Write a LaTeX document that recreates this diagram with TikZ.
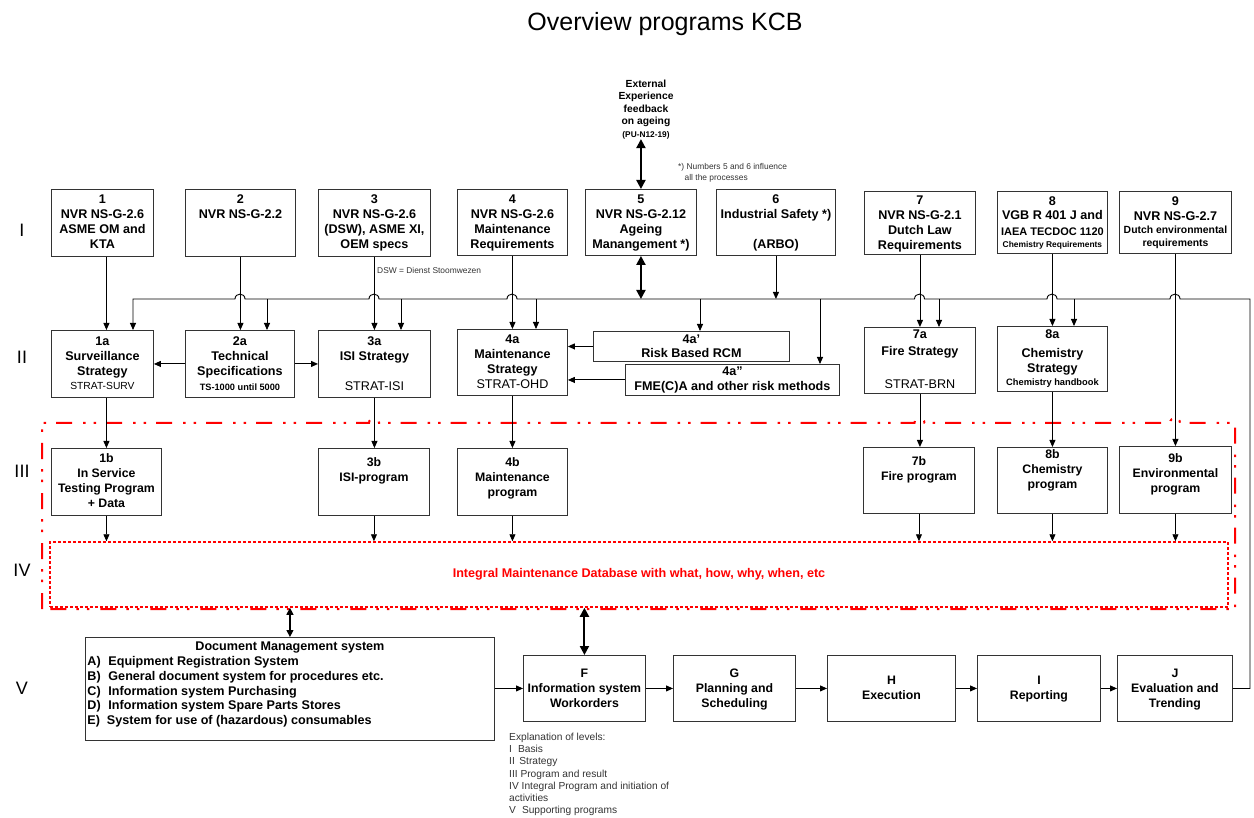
\documentclass[tikz,border=0pt]{standalone}
\usepackage{fontspec}
\setmainfont{Liberation Sans}
\usetikzlibrary{arrows.meta}
\setlength{\parskip}{0pt}
\newcommand\sz[2]{\fontsize{#1}{#2}\selectfont}
% \blk[style]{name}{x1}{y1}{x2}{y2}{top padding}{lines}
\newcommand\blk[8][]{%
  \pgfmathsetmacro\blkw{#5-#3}%
  \pgfmathsetmacro\blkh{#6-#4}%
  \node[blkbox,#1] (#2) at (#3,#4)
    {\parbox[c][\blkh pt][t]{\blkw pt}{\centering\vspace*{#7pt}#8\par}};%
}
\begin{document}
\begin{tikzpicture}[x=1pt,y=-1pt,
  blkbox/.style={draw=black!80, line width=0.9pt, fill=white, inner sep=0pt,
    anchor=north west, font=\bfseries\sz{12.6}{15}},
  progbox/.style={font=\bfseries\sz{12.3}{15}},
  arr/.style={line width=0.9pt, -{Triangle[length=7pt,width=6pt]}},
  dblarr/.style={line width=2pt, {Triangle[length=9pt,width=9pt]}-{Triangle[length=9pt,width=9pt]}},
  thinboth/.style={line width=1.2pt, {Triangle[length=7pt,width=7pt]}-{Triangle[length=7pt,width=7pt]}},
  level/.style={font=\sz{18}{18}, inner sep=0pt},
  note/.style={font=\sz{8.4}{11.5}, text=black!80, inner sep=0pt},
  redframe/.style={draw=red, line width=2pt,
    dash pattern=on 16pt off 11pt on 2.5pt off 8pt on 2.5pt off 10pt},
]
\useasboundingbox (0,0) rectangle (1254,818);

% title and level labels
\node[font=\sz{25}{25}, inner sep=0pt, anchor=base] (title) at (665,31) {Overview programs KCB};
\node[level] (L1) at (22,230) {I};
\node[level] (L2) at (22,357) {II};
\node[level] (L3) at (22,471) {III};
\node[level] (L4) at (22,570) {IV};
\node[level] (L5) at (22,688) {V};

% external feedback and notes
\node[font=\bfseries\sz{10.3}{12.5}, align=center, inner sep=0pt, anchor=north] (ext) at (646,79.5)
  {External\\Experience\\feedback\\on ageing\\{\sz{8.3}{12}(PU-N12-19)}};
\node[note, align=left, anchor=north west] (n56) at (678,163)
  {*) Numbers 5 and 6 influence\\\hspace*{6.5pt}all the processes};
\node[note, anchor=west] (dsw) at (377,270) {DSW = Dienst Stoomwezen};

% level I
\blk{b1}{51}{189}{153}{256}{5.5}{1\par NVR NS-G-2.6\par ASME OM and\par KTA}
\blk{b2}{185}{189}{295}{256}{5.5}{2\par NVR NS-G-2.2}
\blk{b3}{318}{189}{430}{256}{5.5}{3\par NVR NS-G-2.6\par (DSW), ASME XI,\par OEM specs}
\blk{b4}{457}{189}{567}{255}{5.5}{4\par NVR NS-G-2.6\par Maintenance\par Requirements}
\blk{b5}{585}{189}{696}{255}{5.5}{5\par NVR NS-G-2.12\par Ageing\par Manangement *)}
\blk{b6}{716}{189}{835}{255}{5.5}{6\par Industrial Safety *)\par\mbox{}\par (ARBO)}
\blk{b7}{864}{191}{975}{254}{4.5}{7\par NVR NS-G-2.1\par Dutch Law\par Requirements}
\blk[font=\bfseries\sz{12.6}{14}]{b8}{997}{191}{1107}{253}{5.5}{8\par VGB R 401 J and\par
  {\sz{11}{15.5}IAEA TECDOC 1120\par}{\sz{8.4}{12}Chemistry Requirements\par}}
\blk{b9}{1119}{191}{1231}{253}{5.5}{9\par NVR NS-G-2.7\par
  {\sz{10.4}{13}Dutch environmental\par requirements\par}}

% level II
\blk{b1a}{51}{330}{153}{397}{6.5}{1a\par Surveillance\par Strategy\par
  {\mdseries\sz{10.3}{13.5}STRAT-SURV\par}}
\blk{b2a}{185}{330}{294}{397}{6.5}{2a\par Technical\par Specifications\par
  {\sz{9.2}{14.8}TS-1000 until 5000\par}}
\blk{b3a}{318}{330}{430}{397}{6.5}{3a\par ISI Strategy\par\mbox{}\par {\mdseries STRAT-ISI\par}}
\blk{b4a}{457}{329}{567}{395}{5.5}{4a\par Maintenance\par Strategy\par {\mdseries STRAT-OHD\par}}
\blk[font=\bfseries\sz{12.6}{14}]{b4ap}{593}{331}{789}{361}{3.5}{4a'\par Risk Based RCM}
\blk{b4app}{625}{364}{839}{395}{2.5}{4a''\par FME(C)A and other risk methods}
\blk[font=\bfseries\sz{12.6}{16.5}]{b7a}{864}{327}{975}{393}{2.5}{7a\par Fire Strategy\par\mbox{}\par
  {\mdseries STRAT-BRN\par}}
\blk{b8a}{997}{326}{1107}{391}{3.5}{8a\par\vspace{4pt}Chemistry\par Strategy\par
  {\sz{9.3}{12.5}Chemistry handbook\par}}

% level III
\blk[progbox]{b1b}{51}{448}{161}{515}{5.5}{1b\par In Service\par Testing Program\par + Data}
\blk[progbox]{b3b}{318}{448}{429}{515}{9.5}{3b\par ISI-program}
\blk[progbox]{b4b}{457}{448}{567}{515}{9.5}{4b\par Maintenance\par program}
\blk[progbox]{b7b}{863}{447}{974}{513}{8.7}{7b\par Fire program}
\blk[progbox]{b8b}{997}{447}{1107}{513}{2.5}{8b\par Chemistry\par program}
\blk[progbox]{b9b}{1119}{446}{1231}{513}{7}{9b\par Environmental\par program}

% level IV: integral database
\node[draw=red, line width=1.5pt, dash pattern=on 3pt off 2pt,
  minimum width=1178pt, minimum height=65pt, inner sep=0pt,
  text=red, font=\bfseries\sz{12.6}{15}] (imd) at (639,574.5)
  {Integral Maintenance Database with what, how, why, when, etc};

% level V
\blk{doc}{85}{637}{494}{740}{4.5}{Document Management system\par
  {\raggedright\sz{12.6}{14.8}%
  \hspace*{2pt}\makebox[21pt][l]{A)}Equipment Registration System\par
  \hspace*{2pt}\makebox[21pt][l]{B)}General document system for procedures etc.\par
  \hspace*{2pt}\makebox[21pt][l]{C)}Information system Purchasing\par
  \hspace*{2pt}\makebox[21pt][l]{D)}Information system Spare Parts Stores\par
  \hspace*{2pt}\makebox[19.5pt][l]{E)}System for use of (hazardous) consumables\par}}
\blk[progbox]{bF}{523}{655}{645}{721}{13.5}{F\par Information system\par Workorders}
\blk[progbox]{bG}{673}{655}{795}{721}{13.5}{G\par Planning and\par Scheduling}
\blk[progbox]{bH}{827}{655}{955}{721}{20.5}{H\par Execution}
\blk[progbox]{bI}{977}{655}{1100}{721}{20.5}{I\par Reporting}
\blk[progbox]{bJ}{1117}{655}{1232}{721}{13.5}{J\par Evaluation and\par Trending}

\node[font=\sz{10.2}{12.2}, text=black!80, align=left, inner sep=0pt, anchor=north west] (expl) at (509,733)
  {Explanation of levels:\\
   I\hspace{6pt}Basis\\
   II\hspace{4.5pt}Strategy\\
   III Program and result\\
   IV Integral Program and initiation of\\
   activities\\
   V\hspace{6pt}Supporting programs};

% outer frame of levels III and IV, hopping over the vertical feeds
\draw[redframe] (42,609) -- (42,423)
  -- (369,423) .. controls (369,416.5) and (379,416.5) .. (379,423)
  -- (914.5,423) .. controls (914.5,416.5) and (924.5,416.5) .. (924.5,423)
  -- (1170,423) .. controls (1170,416.5) and (1180,416.5) .. (1180,423)
  -- (1235,423) -- (1235,609) -- cycle;

% feedback bus from J back to the strategies
\coordinate (busR) at (1250,299);
\coordinate (busL) at (133,299);
\coordinate (bus2) at (267,299);
\coordinate (bus3) at (401,299);
\coordinate (bus4) at (536,299);
\coordinate (bus4ap) at (700,299);
\coordinate (bus4app) at (820,299);
\coordinate (bus7) at (939,299);
\coordinate (bus8) at (1074,299);
\draw[arr] (bJ.east) -- (bJ.east -| busR) -- (busR)
  -- (1180,299) .. controls (1180,292.5) and (1170,292.5) .. (1170,299)
  -- (1057,299) .. controls (1057,292.5) and (1047,292.5) .. (1047,299)
  -- (924.5,299) .. controls (924.5,292.5) and (914.5,292.5) .. (914.5,299)
  -- (517,299) .. controls (517,292.5) and (507,292.5) .. (507,299)
  -- (379,299) .. controls (379,292.5) and (369,292.5) .. (369,299)
  -- (245,299) .. controls (245,292.5) and (235,292.5) .. (235,299)
  -- (busL) -- (busL |- b1a.north);
\foreach \c/\t in {bus2/b2a, bus3/b3a, bus4/b4a, bus4ap/b4ap, bus4app/b4app, bus7/b7a, bus8/b8a}
  \draw[arr] (\c) -- (\c |- \t.north);

% level I to level II
\draw[arr] (b1.south -| b1b.north) -- (b1a.north -| b1b.north);
\draw[arr] (b2.south) -- (b2.south |- b2a.north);
\draw[arr] (b3.south) -- (b3.south |- b3a.north);
\draw[arr] (b4.south) -- (b4.south |- b4a.north);
\draw[arr] (b7.south) -- (b7.south |- b7a.north);
\draw[arr] (b8.south) -- (b8.south |- b8a.north);
\draw[arr] (b9.south) -- (b9.south |- b9b.north);
\draw[arr] (b6.south) -- (b6.south |- busR);
\draw[dblarr] (b5.south) -- (b5.south |- busR);
\draw[dblarr] (b5.north |- ext.south) -- (b5.north);

% within level II
\draw[arr] (b2a.west) -- (b2a.west -| b1a.east);
\draw[arr] (b2a.east) -- (b2a.east -| b3a.west);
\draw[arr] (b4ap.west) -- (b4ap.west -| b4a.east);
\draw[arr] (b4app.west) -- (b4app.west -| b4a.east);

% level II to level III
\draw[arr] (b1a.south -| b1b.north) -- (b1b.north);
\draw[arr] (b3a.south) -- (b3a.south |- b3b.north);
\draw[arr] (b4a.south) -- (b4a.south |- b4b.north);
\draw[arr] (b7a.south) -- (b7a.south |- b7b.north);
\draw[arr] (b8a.south) -- (b8a.south |- b8b.north);

% level III to level IV
\foreach \p in {b1b, b3b, b4b, b7b, b8b, b9b}
  \draw[arr] (\p.south) -- (\p.south |- imd.north);

% level IV and level V
\draw[thinboth] (doc.north |- imd.south) -- (doc.north);
\draw[dblarr] (bF.north |- imd.south) -- (bF.north);
\draw[arr] (bF.west -| doc.east) -- (bF.west);
\draw[arr] (bF.east) -- (bG.west);
\draw[arr] (bG.east) -- (bH.west);
\draw[arr] (bH.east) -- (bI.west);
\draw[arr] (bI.east) -- (bJ.west);
\end{tikzpicture}
\end{document}
